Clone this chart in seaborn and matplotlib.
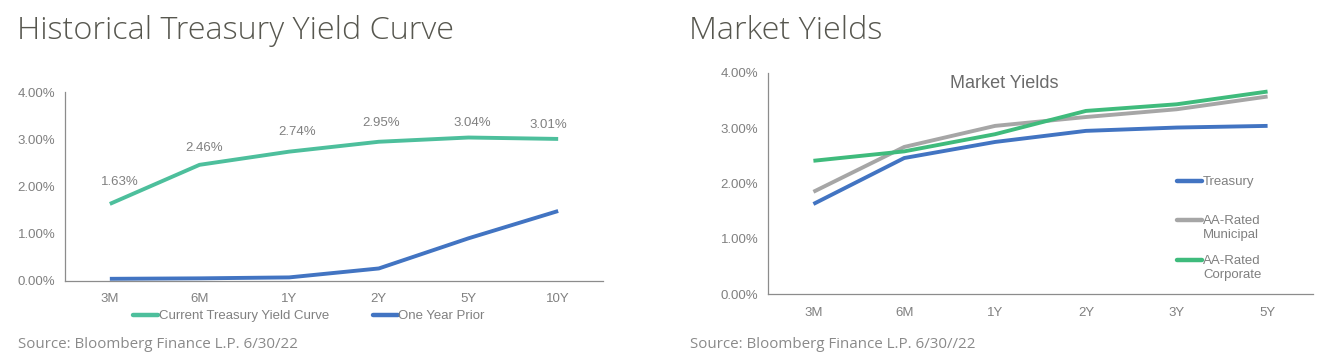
import numpy as np
import pandas as pd
import matplotlib
matplotlib.use("Agg")
import matplotlib.pyplot as plt
from matplotlib.lines import Line2D
from matplotlib.ticker import FixedLocator, FuncFormatter
import seaborn as sns

# ---------------- data ----------------
hist_tenors = ["3M", "6M", "1Y", "2Y", "5Y", "10Y"]
current_curve = [1.63, 2.46, 2.74, 2.95, 3.04, 3.01]
one_year_prior = [0.04, 0.05, 0.07, 0.26, 0.90, 1.48]

mkt_tenors = ["3M", "6M", "1Y", "2Y", "3Y", "5Y"]
treasury = [1.63, 2.46, 2.75, 2.95, 3.01, 3.04]
municipal = [1.85, 2.66, 3.04, 3.20, 3.34, 3.57]
corporate = [2.41, 2.58, 2.89, 3.31, 3.43, 3.66]

y_ticks = [0, 1, 2, 3, 4]

# ---------------- style ----------------
sns.set_theme(style="white")
plt.rcParams["font.family"] = ["Liberation Sans", "DejaVu Sans"]

C_CUR = "#4dbf9c"
C_PRIOR = "#4274c2"
C_TREAS = "#4274c2"
C_MUNI = "#a6a6a6"
C_CORP = "#3fbb7c"
TICK_C = "#808080"
SPINE_C = "#8c8c8c"
TITLE_C = "#57574f"

fig = plt.figure(figsize=(13.37, 3.64), dpi=100)

ax1 = fig.add_axes([65 / 1337, 1 - 280.7 / 364, (603 - 65) / 1337, (280.7 - 92.3) / 364])
ax2 = fig.add_axes([768 / 1337, 1 - 294.3 / 364, (1313 - 768) / 1337, (294.3 - 72.7) / 364])


def style_axes(ax, tenors):
    ax.set_ylim(0, 4)
    ax.set_xlim(-0.5, len(tenors) - 0.5)
    ax.set_xticks(range(len(tenors)))
    ax.set_xticklabels(tenors)
    ax.xaxis.set_minor_locator(FixedLocator(np.arange(-0.5, len(tenors), 1.0)))
    ax.set_yticks(y_ticks)
    ax.yaxis.set_major_formatter(FuncFormatter(lambda v, p: f"{v:.2f}%"))
    for s in ["top", "right"]:
        ax.spines[s].set_visible(False)
    for s in ["left", "bottom"]:
        ax.spines[s].set_color(SPINE_C)
        ax.spines[s].set_linewidth(0.9)
    ax.tick_params(axis="x", which="major", length=0, pad=9, labelsize=9.5, labelcolor=TICK_C)
    ax.tick_params(axis="x", which="minor", length=4, width=0.9, color=SPINE_C, direction="out")
    ax.tick_params(axis="y", which="major", length=4, width=0.9, color=SPINE_C,
                   direction="out", labelsize=9.5, labelcolor=TICK_C, pad=3)
    ax.set_xlabel("")
    ax.set_ylabel("")
    ax.grid(False)
    ax.set_facecolor("white")


# ---------------- left chart ----------------
df1 = pd.DataFrame({
    "tenor": hist_tenors * 2,
    "pos": list(range(len(hist_tenors))) * 2,
    "yield": current_curve + one_year_prior,
    "series": ["Current Treasury Yield Curve"] * len(hist_tenors) + ["One Year Prior"] * len(hist_tenors),
})
sns.lineplot(data=df1, x="pos", y="yield", hue="series", ax=ax1,
             palette={"Current Treasury Yield Curve": C_CUR, "One Year Prior": C_PRIOR},
             linewidth=2.8, legend=False, solid_capstyle="butt")
style_axes(ax1, hist_tenors)

label_dx = [10, 5, 8, 2, 4, -10]
label_dy = [16, 11, 14, 13, 9, 8]
for i, v in enumerate(current_curve):
    ax1.annotate(f"{v:.2f}%", (i, v), xytext=(label_dx[i], label_dy[i]), textcoords="offset pixels",
                 ha="center", va="bottom", fontsize=9.5, color=TICK_C)

h1 = [Line2D([], [], color=C_CUR, lw=3.2), Line2D([], [], color=C_PRIOR, lw=3.2)]
fig.legend(h1, ["Current Treasury Yield Curve", "One Year Prior"], loc="center",
           bbox_to_anchor=(309 / 1337, 1 - 316 / 364), ncol=2, frameon=False,
           fontsize=9.5, handlelength=1.9, handletextpad=0.05, columnspacing=3.3,
           labelcolor=TICK_C)

# ---------------- right chart ----------------
n = len(mkt_tenors)
df2 = pd.DataFrame({
    "tenor": mkt_tenors * 3,
    "pos": list(range(n)) * 3,
    "yield": treasury + municipal + corporate,
    "series": ["Treasury"] * n + ["Municipal"] * n + ["Corporate"] * n,
})
sns.lineplot(data=df2, x="pos", y="yield", hue="series", ax=ax2,
             hue_order=["Municipal", "Corporate", "Treasury"],
             palette={"Treasury": C_TREAS, "Municipal": C_MUNI, "Corporate": C_CORP},
             linewidth=2.8, legend=False, solid_capstyle="butt")
style_axes(ax2, mkt_tenors)
ax2.text(0.433, 0.95, "Market Yields", transform=ax2.transAxes, ha="center", va="center",
         fontsize=13, color="#6b6b6b")

# right legend: handle aligned with first text line
groups = [
    (C_TREAS, ["Treasury"], 176),
    (C_MUNI, ["AA-Rated", "Municipal"], 215),
    (C_CORP, ["AA-Rated", "Corporate"], 255),
]
for color, lines, ytop in groups:
    hs = [Line2D([], [], color=color, lw=3.2)] + [Line2D([], [], color="none")] * (len(lines) - 1)
    fig.legend(hs, lines, loc="upper left",
               bbox_to_anchor=(1168 / 1337, 1 - (ytop - 9) / 364), frameon=False,
               fontsize=9.5, handlelength=1.9, handletextpad=0.05, labelspacing=0.1,
               borderpad=0.2, labelcolor=TICK_C)

# ---------------- titles & sources ----------------
title_font = ["Open Sans", "DejaVu Sans"]
fig.text(17 / 1337, 1 - 31 / 364, "Historical Treasury Yield Curve", fontsize=23.3,
         fontweight="light", family=title_font, color=TITLE_C, ha="left", va="center")
fig.text(689 / 1337, 1 - 31 / 364, "Market Yields", fontsize=23.3,
         fontweight="light", family=title_font, color=TITLE_C, ha="left", va="center")
fig.text(18 / 1337, 1 - 345 / 364, "Source: Bloomberg Finance L.P. 6/30/22", fontsize=10.9,
         family=title_font, color="#8a8a8a", ha="left", va="center")
fig.text(690 / 1337, 1 - 345 / 364, "Source: Bloomberg Finance L.P. 6/30//22", fontsize=10.9,
         family=title_font, color="#8a8a8a", ha="left", va="center")

fig.savefig("out.png", dpi=100, facecolor="white")
